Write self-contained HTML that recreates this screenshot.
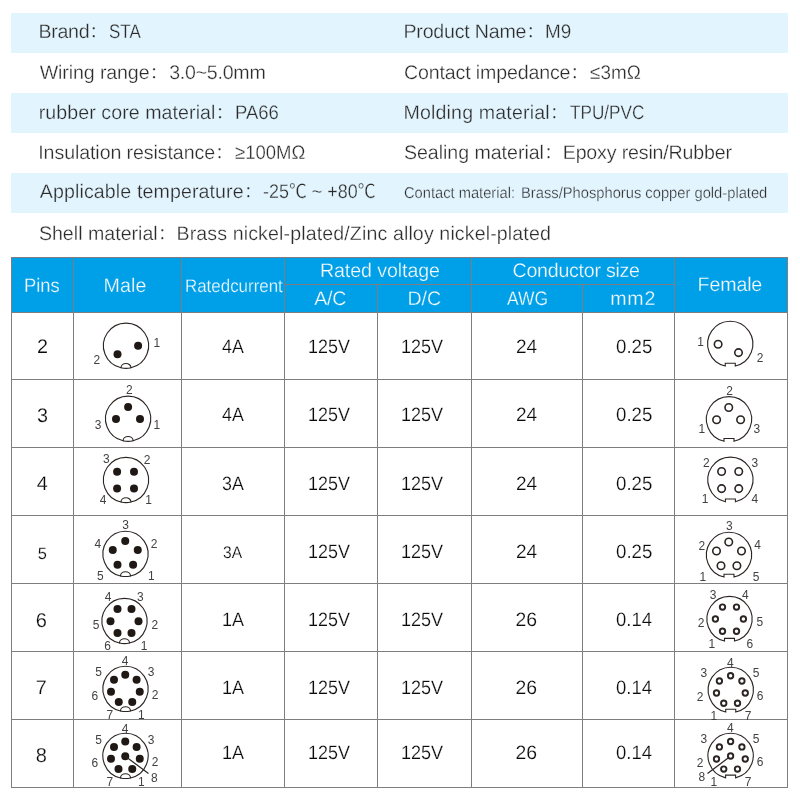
<!DOCTYPE html>
<html lang="en">
<head>
<meta charset="utf-8">
<title>M9 connector specifications</title>
<style>
*{box-sizing:border-box;margin:0;padding:0}
html,body{width:800px;height:800px;background:#fff;overflow:hidden}
body{position:relative;font-family:"Liberation Sans", "Noto Sans CJK SC", sans-serif;color:#2b2b2b}
.t{position:absolute;white-space:pre;transform-origin:0 0;text-rendering:geometricPrecision;-webkit-text-stroke:.3px #fff}
.b{-webkit-text-stroke-color:#e2f4fd}
.w{color:#fff;-webkit-text-stroke-color:#00a0e9}
.d{color:#0a0a0a;-webkit-text-stroke-width:.2px}
.l{font-family:"Liberation Sans", "Noto Serif CJK SC", sans-serif}
.specs{margin:13px 12px 0 11px;list-style:none}
.specs li{height:40px}
.specs li:nth-child(odd){background:#e2f4fd}
table{margin:4px 0 0 11px;width:777px;border-collapse:collapse;table-layout:fixed;font-weight:400}
th,td{border:1px solid #807d80;font-weight:400}
thead{background:#00a0e9}
.dg{position:absolute;overflow:visible;font-family:"Liberation Sans", "Noto Sans CJK SC", sans-serif}
</style>
</head>
<body>
<ul class="specs">
<li><span class="t b l" style="left:38.48px;top:20px;font-size:19.6px;line-height:25px;letter-spacing:-0.28px;">Brand：</span><span class="t b" style="left:109.04px;top:20px;font-size:19.6px;line-height:25px;transform:scaleX(0.866);">STA</span><span class="t b l" style="left:403.48px;top:20px;font-size:19.6px;line-height:25px;letter-spacing:-0.20px;">Product Name：</span><span class="t b" style="left:545.29px;top:20px;font-size:19.6px;line-height:25px;transform:scaleX(0.964);">M9</span></li>
<li><span class="t l" style="left:39.7px;top:61px;font-size:19.6px;line-height:25px;letter-spacing:-0.11px;">Wiring range：</span><span class="t" style="left:169.19px;top:61px;font-size:19.6px;line-height:25px;letter-spacing:-0.25px;">3.0~5.0mm</span><span class="t l" style="left:404.05px;top:61px;font-size:19.6px;line-height:25px;letter-spacing:-0.15px;">Contact impedance：</span><span class="t" style="left:590.01px;top:61px;font-size:19.6px;line-height:25px;transform:scaleX(0.965);">≤3mΩ</span></li>
<li><span class="t b l" style="left:38.75px;top:101px;font-size:19.6px;line-height:25px;letter-spacing:0.07px;">rubber core material：</span><span class="t b" style="left:234.57px;top:101px;font-size:19.6px;line-height:25px;transform:scaleX(0.944);">PA66</span><span class="t b l" style="left:403.48px;top:101px;font-size:19.6px;line-height:25px;letter-spacing:0.16px;">Molding material：</span><span class="t b" style="left:569.71px;top:101px;font-size:19.6px;line-height:25px;transform:scaleX(0.875);">TPU/PVC</span></li>
<li><span class="t l" style="left:38.28px;top:141px;font-size:19.6px;line-height:25px;letter-spacing:-0.09px;">Insulation resistance：</span><span class="t" style="left:235.01px;top:141px;font-size:19.6px;line-height:25px;transform:scaleX(0.945);">≥100MΩ</span><span class="t l" style="left:403.88px;top:141px;font-size:19.6px;line-height:25px;letter-spacing:-0.03px;">Sealing material：</span><span class="t" style="left:562.73px;top:141px;font-size:19.6px;line-height:25px;letter-spacing:-0.16px;">Epoxy resin/Rubber</span></li>
<li><span class="t b l" style="left:39.84px;top:180px;font-size:19.6px;line-height:25px;letter-spacing:0.11px;">Applicable temperature：</span><span class="t b" style="left:262.89px;top:180px;font-size:19.6px;line-height:25px;transform:scaleX(0.915);">-25℃ ~ +80℃</span><span class="t b" style="left:403.82px;top:184px;font-size:15.6px;line-height:20px;transform:scaleX(0.942);">Contact material:</span><span class="t b" style="left:520.62px;top:184px;font-size:15.6px;line-height:20px;transform:scaleX(0.944);">Brass/Phosphorus copper gold-plated</span></li>
<li><span class="t l" style="left:38.88px;top:222px;font-size:19.6px;line-height:25px;letter-spacing:0.01px;">Shell material：</span><span class="t" style="left:176.48px;top:222px;font-size:19.6px;line-height:25px;letter-spacing:0.12px;">Brass nickel-plated/Zinc alloy nickel-plated</span></li>
</ul>
<table>
<colgroup><col style="width:62px"><col style="width:108px"><col style="width:103px"><col style="width:93px"><col style="width:94px"><col style="width:111px"><col style="width:92px"><col style="width:113px"></colgroup>
<thead>
<tr style="height:27px"><th rowspan="2"><span class="t w" style="left:24.09px;top:274px;font-size:19.6px;line-height:25px;transform:scaleX(0.937);">Pins</span></th><th rowspan="2"><span class="t w" style="left:103.38px;top:274px;font-size:19.6px;line-height:25px;letter-spacing:0.18px;">Male</span></th><th rowspan="2"><span class="t w" style="left:184.71px;top:274px;font-size:18.2px;line-height:24px;transform:scaleX(0.930);">Ratedcurrent</span></th><th colspan="2"><span class="t w" style="left:319.98px;top:259px;font-size:19.6px;line-height:25px;letter-spacing:-0.08px;">Rated voltage</span></th><th colspan="2"><span class="t w" style="left:512.55px;top:259px;font-size:19.6px;line-height:25px;letter-spacing:-0.25px;">Conductor size</span></th><th rowspan="2"><span class="t w" style="left:697.58px;top:273px;font-size:19.6px;line-height:25px;letter-spacing:-0.13px;">Female</span></th></tr>
<tr style="height:28px"><th><span class="t w" style="left:314.24px;top:287px;font-size:19.6px;line-height:25px;letter-spacing:-0.26px;">A/C</span></th><th><span class="t w" style="left:407.38px;top:287px;font-size:19.6px;line-height:25px;letter-spacing:0.06px;">D/C</span></th><th><span class="t w" style="left:507.37px;top:287px;font-size:19.6px;line-height:25px;transform:scaleX(0.890);">AWG</span></th><th><span class="t w" style="left:610.24px;top:287px;font-size:19.6px;line-height:25px;letter-spacing:0.76px;">mm2</span></th></tr>
</thead>
<tbody>
<tr style="height:67px"><td><span class="t d" style="left:36.95px;top:334px;font-size:19.8px;line-height:26px;">2</span></td>
<td><svg class="dg" style="left:74px;top:313px" width="107" height="66" viewBox="0 0 107 66"><path d="M57 54.79A22.6 22.6 0 1 0 47 54.79A5 4.25 0 0 1 57 54.79Z" fill="none" stroke="#2b2422" stroke-width="1.1"/><path d="M47 54.79A22.6 22.6 0 0 0 57 54.79" fill="none" stroke="#2b2422" stroke-width="1.1"/><circle cx="64.1" cy="32.75" r="4" fill="#1f1815"/><circle cx="43.5" cy="41.25" r="4" fill="#1f1815"/><text transform="translate(82.9 33.55) scale(.9 1)" text-anchor="middle" font-size="13.3" fill="#424242">1</text><text transform="translate(22.9 51.3) scale(.9 1)" text-anchor="middle" font-size="13.3" fill="#424242">2</text></svg></td>
<td><span class="t d" style="left:221.99px;top:335px;font-size:19.4px;line-height:25px;transform:scaleX(0.918);">4A</span></td><td><span class="t d" style="left:308.42px;top:335px;font-size:19.4px;line-height:25px;transform:scaleX(0.924);">125V</span></td><td><span class="t d" style="left:401.41px;top:335px;font-size:19.4px;line-height:25px;transform:scaleX(0.929);">125V</span></td><td><span class="t d" style="left:515.62px;top:335px;font-size:19.4px;line-height:25px;transform:scaleX(0.982);">24</span></td><td><span class="t d" style="left:616.04px;top:335px;font-size:19.4px;line-height:25px;transform:scaleX(0.964);">0.25</span></td>
<td><svg class="dg" style="left:675px;top:313px" width="112" height="66" viewBox="0 0 112 66"><path d="M60.25 52.94A22.6 22.6 0 1 0 50.25 52.94V50.24H60.25Z" fill="none" stroke="#2b2422" stroke-width="1.1" stroke-linejoin="miter"/><circle cx="43.1" cy="31.25" r="3.75" fill="#fff" stroke="#2b2422" stroke-width="1.6"/><circle cx="63.5" cy="39.6" r="3.75" fill="#fff" stroke="#2b2422" stroke-width="1.6"/><text transform="translate(25.6 33.2) scale(.9 1)" text-anchor="middle" font-size="13.3" fill="#424242">1</text><text transform="translate(85 49.05) scale(.9 1)" text-anchor="middle" font-size="13.3" fill="#424242">2</text></svg></td></tr>
<tr style="height:68px"><td><span class="t d" style="left:36.89px;top:403px;font-size:19.8px;line-height:26px;">3</span></td>
<td><svg class="dg" style="left:74px;top:380px" width="107" height="67" viewBox="0 0 107 67"><path d="M59.1 60.79A22.6 22.6 0 1 0 49.1 60.79A5 4.25 0 0 1 59.1 60.79Z" fill="none" stroke="#2b2422" stroke-width="1.1"/><path d="M49.1 60.79A22.6 22.6 0 0 0 59.1 60.79" fill="none" stroke="#2b2422" stroke-width="1.1"/><circle cx="54.1" cy="26.9" r="4" fill="#1f1815"/><circle cx="42" cy="39" r="4" fill="#1f1815"/><circle cx="66" cy="39" r="4" fill="#1f1815"/><text transform="translate(55.4 13.8) scale(.9 1)" text-anchor="middle" font-size="13.3" fill="#424242">2</text><text transform="translate(24.1 48.55) scale(.9 1)" text-anchor="middle" font-size="13.3" fill="#424242">3</text><text transform="translate(82.9 48.8) scale(.9 1)" text-anchor="middle" font-size="13.3" fill="#424242">1</text></svg></td>
<td><span class="t d" style="left:221.99px;top:403px;font-size:19.4px;line-height:25px;transform:scaleX(0.918);">4A</span></td><td><span class="t d" style="left:308.42px;top:403px;font-size:19.4px;line-height:25px;transform:scaleX(0.924);">125V</span></td><td><span class="t d" style="left:401.41px;top:403px;font-size:19.4px;line-height:25px;transform:scaleX(0.929);">125V</span></td><td><span class="t d" style="left:515.62px;top:403px;font-size:19.4px;line-height:25px;transform:scaleX(0.982);">24</span></td><td><span class="t d" style="left:616.04px;top:403px;font-size:19.4px;line-height:25px;transform:scaleX(0.964);">0.25</span></td>
<td><svg class="dg" style="left:675px;top:380px" width="112" height="67" viewBox="0 0 112 67"><path d="M59 61.24A22.6 22.6 0 1 0 49 61.24V58.54H59Z" fill="none" stroke="#2b2422" stroke-width="1.1" stroke-linejoin="miter"/><circle cx="53.75" cy="27.5" r="3.75" fill="#fff" stroke="#2b2422" stroke-width="1.6"/><circle cx="41.6" cy="39.75" r="3.75" fill="#fff" stroke="#2b2422" stroke-width="1.6"/><circle cx="65.6" cy="39.75" r="3.75" fill="#fff" stroke="#2b2422" stroke-width="1.6"/><text transform="translate(54.6 14.55) scale(.9 1)" text-anchor="middle" font-size="13.3" fill="#424242">2</text><text transform="translate(26.9 52.9) scale(.9 1)" text-anchor="middle" font-size="13.3" fill="#424242">1</text><text transform="translate(81.9 52.9) scale(.9 1)" text-anchor="middle" font-size="13.3" fill="#424242">3</text></svg></td></tr>
<tr style="height:68px"><td><span class="t d" style="left:36.76px;top:471px;font-size:19.8px;line-height:26px;">4</span></td>
<td><svg class="dg" style="left:74px;top:448px" width="107" height="67" viewBox="0 0 107 67"><path d="M57 54.04A22.6 22.6 0 1 0 47 54.04A5 4.25 0 0 1 57 54.04Z" fill="none" stroke="#2b2422" stroke-width="1.1"/><path d="M47 54.04A22.6 22.6 0 0 0 57 54.04" fill="none" stroke="#2b2422" stroke-width="1.1"/><circle cx="43.1" cy="23.75" r="4" fill="#1f1815"/><circle cx="60" cy="23.75" r="4" fill="#1f1815"/><circle cx="43.1" cy="40.6" r="4" fill="#1f1815"/><circle cx="60" cy="40.6" r="4" fill="#1f1815"/><text transform="translate(32.25 15.4) scale(.9 1)" text-anchor="middle" font-size="13.3" fill="#424242">3</text><text transform="translate(73.1 15.8) scale(.9 1)" text-anchor="middle" font-size="13.3" fill="#424242">2</text><text transform="translate(29.1 56.3) scale(.9 1)" text-anchor="middle" font-size="13.3" fill="#424242">4</text><text transform="translate(74.5 55.8) scale(.9 1)" text-anchor="middle" font-size="13.3" fill="#424242">1</text></svg></td>
<td><span class="t d" style="left:222.27px;top:472px;font-size:19.4px;line-height:25px;transform:scaleX(0.919);">3A</span></td><td><span class="t d" style="left:308.42px;top:472px;font-size:19.4px;line-height:25px;transform:scaleX(0.924);">125V</span></td><td><span class="t d" style="left:401.41px;top:472px;font-size:19.4px;line-height:25px;transform:scaleX(0.929);">125V</span></td><td><span class="t d" style="left:515.62px;top:472px;font-size:19.4px;line-height:25px;transform:scaleX(0.982);">24</span></td><td><span class="t d" style="left:616.04px;top:472px;font-size:19.4px;line-height:25px;transform:scaleX(0.964);">0.25</span></td>
<td><svg class="dg" style="left:675px;top:448px" width="112" height="67" viewBox="0 0 112 67"><path d="M60.4 53.74A22.6 22.6 0 1 0 50.4 53.74V51.04H60.4Z" fill="none" stroke="#2b2422" stroke-width="1.1" stroke-linejoin="miter"/><circle cx="46.6" cy="23.5" r="3.75" fill="#fff" stroke="#2b2422" stroke-width="1.6"/><circle cx="63.75" cy="23.5" r="3.75" fill="#fff" stroke="#2b2422" stroke-width="1.6"/><circle cx="46.6" cy="40.6" r="3.75" fill="#fff" stroke="#2b2422" stroke-width="1.6"/><circle cx="63.75" cy="40.6" r="3.75" fill="#fff" stroke="#2b2422" stroke-width="1.6"/><text transform="translate(31.25 18.8) scale(.9 1)" text-anchor="middle" font-size="13.3" fill="#424242">2</text><text transform="translate(79.75 18.8) scale(.9 1)" text-anchor="middle" font-size="13.3" fill="#424242">3</text><text transform="translate(30 55.4) scale(.9 1)" text-anchor="middle" font-size="13.3" fill="#424242">1</text><text transform="translate(79.75 55.4) scale(.9 1)" text-anchor="middle" font-size="13.3" fill="#424242">4</text></svg></td></tr>
<tr style="height:68px"><td><span class="t d" style="left:37.74px;top:544px;font-size:16.4px;line-height:21px;">5</span></td>
<td><svg class="dg" style="left:74px;top:516px" width="107" height="67" viewBox="0 0 107 67"><path d="M56.5 59.94A22.6 22.6 0 1 0 46.5 59.94A5 4.25 0 0 1 56.5 59.94Z" fill="none" stroke="#2b2422" stroke-width="1.1"/><path d="M46.5 59.94A22.6 22.6 0 0 0 56.5 59.94" fill="none" stroke="#2b2422" stroke-width="1.1"/><circle cx="51.25" cy="25" r="4" fill="#1f1815"/><circle cx="38.75" cy="34" r="4" fill="#1f1815"/><circle cx="63.75" cy="34" r="4" fill="#1f1815"/><circle cx="43.5" cy="48.75" r="4" fill="#1f1815"/><circle cx="59.1" cy="48.75" r="4" fill="#1f1815"/><text transform="translate(51.6 13.3) scale(.9 1)" text-anchor="middle" font-size="13.3" fill="#424242">3</text><text transform="translate(23.9 32.05) scale(.9 1)" text-anchor="middle" font-size="13.3" fill="#424242">4</text><text transform="translate(80.1 32.05) scale(.9 1)" text-anchor="middle" font-size="13.3" fill="#424242">2</text><text transform="translate(26.25 64.2) scale(.9 1)" text-anchor="middle" font-size="13.3" fill="#424242">5</text><text transform="translate(77.25 64.2) scale(.9 1)" text-anchor="middle" font-size="13.3" fill="#424242">1</text></svg></td>
<td><span class="t d" style="left:223.45px;top:542px;font-size:16.9px;line-height:22px;transform:scaleX(0.923);">3A</span></td><td><span class="t d" style="left:308.42px;top:540px;font-size:19.4px;line-height:25px;transform:scaleX(0.924);">125V</span></td><td><span class="t d" style="left:401.41px;top:540px;font-size:19.4px;line-height:25px;transform:scaleX(0.929);">125V</span></td><td><span class="t d" style="left:515.62px;top:540px;font-size:19.4px;line-height:25px;transform:scaleX(0.982);">24</span></td><td><span class="t d" style="left:616.04px;top:540px;font-size:19.4px;line-height:25px;transform:scaleX(0.964);">0.25</span></td>
<td><svg class="dg" style="left:675px;top:516px" width="112" height="67" viewBox="0 0 112 67"><path d="M59 60.94A22.6 22.6 0 1 0 49 60.94V58.24H59Z" fill="none" stroke="#2b2422" stroke-width="1.1" stroke-linejoin="miter"/><circle cx="53.75" cy="26" r="3.75" fill="#fff" stroke="#2b2422" stroke-width="1.6"/><circle cx="41.5" cy="35" r="3.75" fill="#fff" stroke="#2b2422" stroke-width="1.6"/><circle cx="66.5" cy="35" r="3.75" fill="#fff" stroke="#2b2422" stroke-width="1.6"/><circle cx="46" cy="49.75" r="3.75" fill="#fff" stroke="#2b2422" stroke-width="1.6"/><circle cx="61.9" cy="49.75" r="3.75" fill="#fff" stroke="#2b2422" stroke-width="1.6"/><text transform="translate(54.4 14.2) scale(.9 1)" text-anchor="middle" font-size="13.3" fill="#424242">3</text><text transform="translate(26.9 34.2) scale(.9 1)" text-anchor="middle" font-size="13.3" fill="#424242">2</text><text transform="translate(82.5 33.3) scale(.9 1)" text-anchor="middle" font-size="13.3" fill="#424242">4</text><text transform="translate(27.75 65.4) scale(.9 1)" text-anchor="middle" font-size="13.3" fill="#424242">1</text><text transform="translate(81 64.8) scale(.9 1)" text-anchor="middle" font-size="13.3" fill="#424242">5</text></svg></td></tr>
<tr style="height:68px"><td><span class="t d" style="left:35.72px;top:608px;font-size:20px;line-height:26px;">6</span></td>
<td><svg class="dg" style="left:74px;top:584px" width="107" height="67" viewBox="0 0 107 67"><path d="M55.5 59.04A22.6 22.6 0 1 0 45.5 59.04A5 4.25 0 0 1 55.5 59.04Z" fill="none" stroke="#2b2422" stroke-width="1.1"/><path d="M45.5 59.04A22.6 22.6 0 0 0 55.5 59.04" fill="none" stroke="#2b2422" stroke-width="1.1"/><circle cx="43.5" cy="25" r="4" fill="#1f1815"/><circle cx="57.5" cy="25" r="4" fill="#1f1815"/><circle cx="36.5" cy="37.25" r="4" fill="#1f1815"/><circle cx="64.5" cy="37.25" r="4" fill="#1f1815"/><circle cx="43.5" cy="49.1" r="4" fill="#1f1815"/><circle cx="57.5" cy="49.1" r="4" fill="#1f1815"/><text transform="translate(34.1 17.05) scale(.9 1)" text-anchor="middle" font-size="13.3" fill="#424242">4</text><text transform="translate(66.4 16.7) scale(.9 1)" text-anchor="middle" font-size="13.3" fill="#424242">3</text><text transform="translate(22 44.55) scale(.9 1)" text-anchor="middle" font-size="13.3" fill="#424242">5</text><text transform="translate(80.75 44.8) scale(.9 1)" text-anchor="middle" font-size="13.3" fill="#424242">2</text><text transform="translate(33.5 66.05) scale(.9 1)" text-anchor="middle" font-size="13.3" fill="#424242">6</text><text transform="translate(70 66.05) scale(.9 1)" text-anchor="middle" font-size="13.3" fill="#424242">1</text></svg></td>
<td><span class="t d" style="left:222.21px;top:608px;font-size:19.4px;line-height:25px;transform:scaleX(0.930);">1A</span></td><td><span class="t d" style="left:308.42px;top:608px;font-size:19.4px;line-height:25px;transform:scaleX(0.924);">125V</span></td><td><span class="t d" style="left:401.41px;top:608px;font-size:19.4px;line-height:25px;transform:scaleX(0.929);">125V</span></td><td><span class="t d" style="left:515.6px;top:608px;font-size:19.4px;line-height:25px;letter-spacing:-0.02px;">26</span></td><td><span class="t d" style="left:616.05px;top:608px;font-size:19.4px;line-height:25px;transform:scaleX(0.955);">0.14</span></td>
<td><svg class="dg" style="left:675px;top:584px" width="112" height="67" viewBox="0 0 112 67"><path d="M59.5 57.04A22.6 22.6 0 1 0 49.5 57.04V54.34H59.5Z" fill="none" stroke="#2b2422" stroke-width="1.1" stroke-linejoin="miter"/><circle cx="47.5" cy="23.1" r="2.7" fill="#fff" stroke="#2b2422" stroke-width="1.9"/><circle cx="61.5" cy="23.1" r="2.7" fill="#fff" stroke="#2b2422" stroke-width="1.9"/><circle cx="40.4" cy="35" r="2.7" fill="#fff" stroke="#2b2422" stroke-width="1.9"/><circle cx="68.4" cy="35" r="2.7" fill="#fff" stroke="#2b2422" stroke-width="1.9"/><circle cx="47.5" cy="47.25" r="2.7" fill="#fff" stroke="#2b2422" stroke-width="1.9"/><circle cx="61.5" cy="47.25" r="2.7" fill="#fff" stroke="#2b2422" stroke-width="1.9"/><text transform="translate(38.1 14.8) scale(.9 1)" text-anchor="middle" font-size="13.3" fill="#424242">3</text><text transform="translate(70.4 14.8) scale(.9 1)" text-anchor="middle" font-size="13.3" fill="#424242">4</text><text transform="translate(26 42.9) scale(.9 1)" text-anchor="middle" font-size="13.3" fill="#424242">2</text><text transform="translate(84.75 42.3) scale(.9 1)" text-anchor="middle" font-size="13.3" fill="#424242">5</text><text transform="translate(36.9 64.2) scale(.9 1)" text-anchor="middle" font-size="13.3" fill="#424242">1</text><text transform="translate(74.75 63.8) scale(.9 1)" text-anchor="middle" font-size="13.3" fill="#424242">6</text></svg></td></tr>
<tr style="height:68px"><td><span class="t d" style="left:35.81px;top:675px;font-size:19.8px;line-height:26px;">7</span></td>
<td><svg class="dg" style="left:74px;top:652px" width="107" height="67" viewBox="0 0 107 67"><path d="M56.5 58.94A22.6 22.6 0 1 0 46.5 58.94A5 4.25 0 0 1 56.5 58.94Z" fill="none" stroke="#2b2422" stroke-width="1.1"/><path d="M46.5 58.94A22.6 22.6 0 0 0 56.5 58.94" fill="none" stroke="#2b2422" stroke-width="1.1"/><circle cx="51.25" cy="22.75" r="4" fill="#1f1815"/><circle cx="40" cy="27.75" r="4" fill="#1f1815"/><circle cx="62.6" cy="27.75" r="4" fill="#1f1815"/><circle cx="37" cy="39.75" r="4" fill="#1f1815"/><circle cx="65.75" cy="39.75" r="4" fill="#1f1815"/><circle cx="44.75" cy="50" r="4" fill="#1f1815"/><circle cx="58.25" cy="50" r="4" fill="#1f1815"/><text transform="translate(51 13.3) scale(.9 1)" text-anchor="middle" font-size="13.3" fill="#424242">4</text><text transform="translate(24.5 24.2) scale(.9 1)" text-anchor="middle" font-size="13.3" fill="#424242">5</text><text transform="translate(77 24.2) scale(.9 1)" text-anchor="middle" font-size="13.3" fill="#424242">3</text><text transform="translate(20.75 48.3) scale(.9 1)" text-anchor="middle" font-size="13.3" fill="#424242">6</text><text transform="translate(81 46.7) scale(.9 1)" text-anchor="middle" font-size="13.3" fill="#424242">2</text><text transform="translate(35.75 66.7) scale(.9 1)" text-anchor="middle" font-size="13.3" fill="#424242">7</text><text transform="translate(67.25 66.7) scale(.9 1)" text-anchor="middle" font-size="13.3" fill="#424242">1</text></svg></td>
<td><span class="t d" style="left:222.21px;top:676px;font-size:19.4px;line-height:25px;transform:scaleX(0.930);">1A</span></td><td><span class="t d" style="left:308.42px;top:676px;font-size:19.4px;line-height:25px;transform:scaleX(0.924);">125V</span></td><td><span class="t d" style="left:401.41px;top:676px;font-size:19.4px;line-height:25px;transform:scaleX(0.929);">125V</span></td><td><span class="t d" style="left:515.6px;top:676px;font-size:19.4px;line-height:25px;letter-spacing:-0.02px;">26</span></td><td><span class="t d" style="left:616.05px;top:676px;font-size:19.4px;line-height:25px;transform:scaleX(0.955);">0.14</span></td>
<td><svg class="dg" style="left:675px;top:652px" width="112" height="67" viewBox="0 0 112 67"><path d="M60.75 59.94A22.6 22.6 0 1 0 50.75 59.94V57.24H60.75Z" fill="none" stroke="#2b2422" stroke-width="1.1" stroke-linejoin="miter"/><circle cx="55.6" cy="23.75" r="2.7" fill="#fff" stroke="#2b2422" stroke-width="1.9"/><circle cx="44.4" cy="29" r="2.7" fill="#fff" stroke="#2b2422" stroke-width="1.9"/><circle cx="66.9" cy="29" r="2.7" fill="#fff" stroke="#2b2422" stroke-width="1.9"/><circle cx="41.5" cy="41" r="2.7" fill="#fff" stroke="#2b2422" stroke-width="1.9"/><circle cx="70.25" cy="41" r="2.7" fill="#fff" stroke="#2b2422" stroke-width="1.9"/><circle cx="48.75" cy="51.25" r="2.7" fill="#fff" stroke="#2b2422" stroke-width="1.9"/><circle cx="62.5" cy="51.25" r="2.7" fill="#fff" stroke="#2b2422" stroke-width="1.9"/><text transform="translate(55.4 14.55) scale(.9 1)" text-anchor="middle" font-size="13.3" fill="#424242">4</text><text transform="translate(28.75 24.8) scale(.9 1)" text-anchor="middle" font-size="13.3" fill="#424242">3</text><text transform="translate(81 24.8) scale(.9 1)" text-anchor="middle" font-size="13.3" fill="#424242">5</text><text transform="translate(25 49.2) scale(.9 1)" text-anchor="middle" font-size="13.3" fill="#424242">2</text><text transform="translate(85 47.9) scale(.9 1)" text-anchor="middle" font-size="13.3" fill="#424242">6</text><text transform="translate(38.75 67.9) scale(.9 1)" text-anchor="middle" font-size="13.3" fill="#424242">1</text><text transform="translate(73.1 67.9) scale(.9 1)" text-anchor="middle" font-size="13.3" fill="#424242">7</text></svg></td></tr>
<tr style="height:68px"><td><span class="t d" style="left:35.71px;top:743px;font-size:20px;line-height:26px;">8</span></td>
<td><svg class="dg" style="left:74px;top:720px" width="107" height="67" viewBox="0 0 107 67"><path d="M56.5 57.94A22.6 22.6 0 1 0 46.5 57.94A5 4.25 0 0 1 56.5 57.94Z" fill="none" stroke="#2b2422" stroke-width="1.1"/><path d="M46.5 57.94A22.6 22.6 0 0 0 56.5 57.94" fill="none" stroke="#2b2422" stroke-width="1.1"/><circle cx="51.25" cy="21.5" r="4" fill="#1f1815"/><circle cx="40" cy="26.9" r="4" fill="#1f1815"/><circle cx="62.6" cy="26.9" r="4" fill="#1f1815"/><circle cx="37" cy="38.75" r="4" fill="#1f1815"/><circle cx="65.75" cy="38.75" r="4" fill="#1f1815"/><circle cx="44.5" cy="49.1" r="4" fill="#1f1815"/><circle cx="58.25" cy="49.1" r="4" fill="#1f1815"/><circle cx="51.25" cy="36.25" r="4" fill="#1f1815"/><path d="M51.25 36.25L74.5 53.5" stroke="#2b2422" stroke-width="1.2" fill="none"/><text transform="translate(51 12.55) scale(.9 1)" text-anchor="middle" font-size="13.3" fill="#424242">4</text><text transform="translate(24.5 23.55) scale(.9 1)" text-anchor="middle" font-size="13.3" fill="#424242">5</text><text transform="translate(77 23.55) scale(.9 1)" text-anchor="middle" font-size="13.3" fill="#424242">3</text><text transform="translate(20.75 47.05) scale(.9 1)" text-anchor="middle" font-size="13.3" fill="#424242">6</text><text transform="translate(81 46.05) scale(.9 1)" text-anchor="middle" font-size="13.3" fill="#424242">2</text><text transform="translate(35.75 66.05) scale(.9 1)" text-anchor="middle" font-size="13.3" fill="#424242">7</text><text transform="translate(67.25 66.05) scale(.9 1)" text-anchor="middle" font-size="13.3" fill="#424242">1</text><text transform="translate(80.4 61.7) scale(.9 1)" text-anchor="middle" font-size="13.3" fill="#424242">8</text></svg></td>
<td><span class="t d" style="left:222.21px;top:741px;font-size:19.4px;line-height:25px;transform:scaleX(0.930);">1A</span></td><td><span class="t d" style="left:308.42px;top:741px;font-size:19.4px;line-height:25px;transform:scaleX(0.924);">125V</span></td><td><span class="t d" style="left:401.41px;top:741px;font-size:19.4px;line-height:25px;transform:scaleX(0.929);">125V</span></td><td><span class="t d" style="left:515.6px;top:741px;font-size:19.4px;line-height:25px;letter-spacing:-0.02px;">26</span></td><td><span class="t d" style="left:616.05px;top:741px;font-size:19.4px;line-height:25px;transform:scaleX(0.955);">0.14</span></td>
<td><svg class="dg" style="left:675px;top:720px" width="112" height="67" viewBox="0 0 112 67"><path d="M60.6 57.84A22.6 22.6 0 1 0 50.6 57.84V55.14H60.6Z" fill="none" stroke="#2b2422" stroke-width="1.1" stroke-linejoin="miter"/><circle cx="55.6" cy="21.5" r="2.7" fill="#fff" stroke="#2b2422" stroke-width="1.9"/><circle cx="44.4" cy="26.9" r="2.7" fill="#fff" stroke="#2b2422" stroke-width="1.9"/><circle cx="66.9" cy="26.9" r="2.7" fill="#fff" stroke="#2b2422" stroke-width="1.9"/><circle cx="41.5" cy="39" r="2.7" fill="#fff" stroke="#2b2422" stroke-width="1.9"/><circle cx="70.25" cy="39" r="2.7" fill="#fff" stroke="#2b2422" stroke-width="1.9"/><circle cx="48.75" cy="49.1" r="2.7" fill="#fff" stroke="#2b2422" stroke-width="1.9"/><circle cx="62.5" cy="49.1" r="2.7" fill="#fff" stroke="#2b2422" stroke-width="1.9"/><circle cx="55.6" cy="36" r="2.7" fill="#fff" stroke="#2b2422" stroke-width="1.9"/><path d="M53.1 38.1L32.5 53.5" stroke="#2b2422" stroke-width="1.2" fill="none"/><text transform="translate(55.4 12.3) scale(.9 1)" text-anchor="middle" font-size="13.3" fill="#424242">4</text><text transform="translate(28.75 23.3) scale(.9 1)" text-anchor="middle" font-size="13.3" fill="#424242">3</text><text transform="translate(81 23.3) scale(.9 1)" text-anchor="middle" font-size="13.3" fill="#424242">5</text><text transform="translate(25 47.3) scale(.9 1)" text-anchor="middle" font-size="13.3" fill="#424242">2</text><text transform="translate(85 45.8) scale(.9 1)" text-anchor="middle" font-size="13.3" fill="#424242">6</text><text transform="translate(26.9 60.8) scale(.9 1)" text-anchor="middle" font-size="13.3" fill="#424242">8</text><text transform="translate(38.75 66.05) scale(.9 1)" text-anchor="middle" font-size="13.3" fill="#424242">1</text><text transform="translate(73.1 66.05) scale(.9 1)" text-anchor="middle" font-size="13.3" fill="#424242">7</text></svg></td></tr>
</tbody>
</table>
</body>
</html>
